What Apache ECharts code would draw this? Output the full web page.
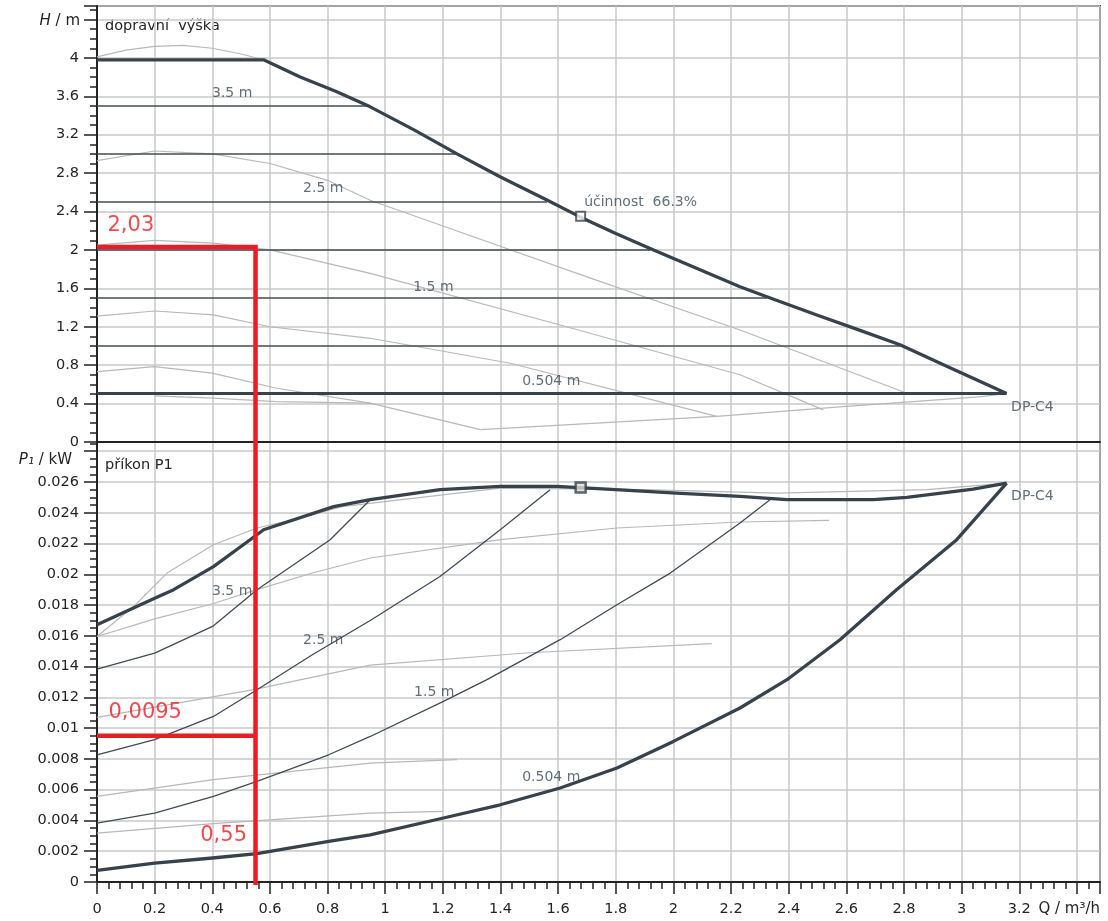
<!DOCTYPE html>
<html>
<head>
<meta charset="utf-8">
<script src="https://cdn.jsdelivr.net/npm/echarts@6/dist/echarts.min.js"></script>
<style>
  html, body { margin: 0; padding: 0; background: #ffffff; }
  #chart { width: 1108px; height: 921px; }
</style>
</head>
<body>
<div id="chart"></div>
<script>
// ---- Flow axis (Q, m³/h) ----
const Q_MAX = 3.48;
const Q_STEP = 0.2;

// ---- Head diagram H(Q), m ----
// maximum curve of the pump
const headMaxQ = [0, 0.578, 0.705, 0.83, 0.948, 1.1, 1.249, 1.4, 1.561, 1.676, 1.8, 1.919, 2.08, 2.231, 2.324, 2.5, 2.65, 2.786, 2.95, 3.156];
const headMaxH = [3.98, 3.98, 3.80, 3.65, 3.49, 3.25, 3.00, 2.76, 2.52, 2.344, 2.17, 2.016, 1.81, 1.617, 1.513, 1.32, 1.16, 1.012, 0.785, 0.504];
// minimum (0.504 m) constant-pressure line
const headMinQ = [0, 3.156];
const headMinH = [0.504, 0.504];
// constant-pressure set points and where they meet the maximum curve
const dpLevels = [3.5, 3.0, 2.5, 2.0, 1.5, 1.0];
const dpEndQ = [0.948, 1.249, 1.561, 1.919, 2.324, 2.786];
// constant-speed curves (grey)
const speedAQ = [0, 0.1, 0.2, 0.3, 0.4, 0.5, 0.578];
const speedAH = [4.01, 4.08, 4.12, 4.13, 4.10, 4.04, 3.98];
const speedBQ = [0, 0.2, 0.4, 0.6, 0.8, 0.948, 1.237, 1.7, 2.231, 2.81];
const speedBH = [2.93, 3.03, 3.00, 2.90, 2.725, 2.517, 2.21, 1.72, 1.166, 0.508];
const speedCQ = [0, 0.2, 0.404, 0.6, 0.948, 1.607, 2.231, 2.52];
const speedCH = [2.05, 2.10, 2.07, 2.00, 1.756, 1.218, 0.70, 0.335];
const speedDQ = [0, 0.2, 0.404, 0.6, 0.948, 1.434, 2.15];
const speedDH = [1.31, 1.364, 1.323, 1.20, 1.08, 0.82, 0.266];
const speedEQ = [0, 0.2, 0.4, 0.624, 0.948, 1.33];
const speedEH = [0.733, 0.785, 0.717, 0.56, 0.405, 0.128];
const speedFQ = [1.33, 1.64, 2.15, 2.6, 3.06, 3.156];
const speedFH = [0.128, 0.18, 0.266, 0.37, 0.47, 0.504];
const speedGQ = [0.2, 0.404, 0.624, 0.948];
const speedGH = [0.48, 0.457, 0.42, 0.405];

// ---- Power diagram P1(Q), kW ----
const powMaxQ = [0, 0.2, 0.266, 0.404, 0.555, 0.578, 0.821, 0.948, 1.19, 1.40, 1.595, 1.80, 2.01, 2.231, 2.393, 2.694, 2.81, 3.04, 3.156];
const powMaxP = [0.01672, 0.01845, 0.0190, 0.0205, 0.02257, 0.0229, 0.0244, 0.02485, 0.0255, 0.02571, 0.02571, 0.0255, 0.02528, 0.02506, 0.02485, 0.02485, 0.0250, 0.02554, 0.02593];
const powMinQ = [0, 0.2, 0.401, 0.555, 0.804, 0.948, 1.202, 1.399, 1.607, 1.804, 2.0, 2.231, 2.394, 2.578, 2.774, 2.983, 3.156];
const powMinP = [0.00076, 0.00123, 0.00156, 0.00184, 0.00264, 0.00307, 0.00416, 0.00502, 0.00611, 0.00741, 0.00914, 0.01131, 0.01315, 0.01575, 0.0190, 0.02225, 0.02593];
const pow35Q = [0, 0.2, 0.401, 0.555, 0.809, 0.948];
const pow35P = [0.01384, 0.01488, 0.01661, 0.0190, 0.02225, 0.02485];
const pow25Q = [0, 0.2, 0.404, 0.555, 0.75, 0.948, 1.19, 1.399, 1.572];
const pow25P = [0.00827, 0.00925, 0.01076, 0.0125, 0.0148, 0.0170, 0.01986, 0.0229, 0.0255];
const pow15Q = [0, 0.2, 0.404, 0.555, 0.804, 0.948, 1.202, 1.353, 1.607, 1.804, 1.989, 2.231, 2.335];
const pow15P = [0.00383, 0.00448, 0.00557, 0.00654, 0.00827, 0.00946, 0.01174, 0.01315, 0.01575, 0.01802, 0.02008, 0.02333, 0.02485];
// constant-speed power curves (grey)
const powGAQ = [0, 0.127, 0.243, 0.404, 0.555, 0.705, 0.85, 1.4, 1.9, 2.36, 2.88, 3.156];
const powGAP = [0.01596, 0.01791, 0.02008, 0.02192, 0.02301, 0.02366, 0.0244, 0.0256, 0.0255, 0.02528, 0.0255, 0.02593];
const powGBQ = [0, 0.2, 0.404, 0.555, 0.75, 0.948, 1.40, 1.804, 2.231, 2.54];
const powGBP = [0.01596, 0.0171, 0.0181, 0.0190, 0.0201, 0.02106, 0.02225, 0.02301, 0.0234, 0.0235];
const powGCQ = [0, 0.543, 0.948, 1.5, 2.133];
const powGCP = [0.0107, 0.0125, 0.0141, 0.0149, 0.0155];
const powGDQ = [0, 0.404, 0.948, 1.249];
const powGDP = [0.00557, 0.00665, 0.00773, 0.00795];
const powGEQ = [0, 0.404, 0.948, 1.2];
const powGEP = [0.00318, 0.0038, 0.00448, 0.00459];

// ---- Best-efficiency point ----
const bepQ = 1.678;
const bepH = 2.35;
const bepP = 0.02565;
const bepEta = '66.3%';

// ---- Reading for the chosen duty point ----
const readQ = 0.55;
const readH = 2.03;
const readP = 0.0095;

// ---- Tick labels ----
const hTickMax = 4.0;
const pTickMax = 0.026;
const qTickMax = 3.2;

// ---- Annotations in data units: [Q, value, text] ----
const headNotes = [[0.469, 3.63, '3.5 m'], [0.785, 2.64, '2.5 m'], [1.167, 1.615, '1.5 m'], [1.576, 0.627, '0.504 m']];
const powNotes = [[0.469, 0.01887, '3.5 m'], [0.785, 0.01568, '2.5 m'], [1.17, 0.0123, '1.5 m'], [1.576, 0.00679, '0.504 m']];

const FONT = 'DejaVu Sans';
const GRID_COLOR = '#c9c9c9';
const DARK = '#38424c';
const THIN = '#414b56';
const GREY = '#b8b8b8';
const AXIS = '#222222';
const RED = '#ed1c24';
const TEXT = '#242424';
const NOTE = '#3c4a58';

const pair = (xs, ys) => xs.map((x, i) => [x, ys[i]]);
const num = (v, d) => String(Math.round(v * Math.pow(10, d)) / Math.pow(10, d));
const comma = v => String(v).replace('.', ',');

function curve(data, gi, width, color, z) {
  return {
    type: 'line', xAxisIndex: gi, yAxisIndex: gi, data: data,
    showSymbol: false, symbol: 'none', silent: true, animation: false,
    lineStyle: { width: width, color: color, join: 'round' }, z: z
  };
}

function notes(items, gi, labelStyle) {
  return {
    type: 'scatter', xAxisIndex: gi, yAxisIndex: gi, symbolSize: 1, silent: true, animation: false,
    itemStyle: { color: 'transparent' }, z: 6,
    data: items.map(t => ({ value: [t[0], t[1]], name: t[2] })),
    label: Object.assign({ show: true, formatter: '{b}', fontFamily: FONT, fontSize: 14, color: NOTE }, labelStyle)
  };
}

const series = [];

// head diagram
series.push(curve(pair(speedAQ, speedAH), 0, 1.2, GREY, 2));
series.push(curve(pair(speedBQ, speedBH), 0, 1.2, GREY, 2));
series.push(curve(pair(speedCQ, speedCH), 0, 1.2, GREY, 2));
series.push(curve(pair(speedDQ, speedDH), 0, 1.2, GREY, 2));
series.push(curve(pair(speedEQ, speedEH), 0, 1.2, GREY, 2));
series.push(curve(pair(speedFQ, speedFH), 0, 1.2, GREY, 2));
series.push(curve(pair(speedGQ, speedGH), 0, 1.2, GREY, 2));
dpLevels.forEach((h, i) => series.push(curve([[0, h], [dpEndQ[i], h]], 0, 1.5, THIN, 3)));
series.push(curve(pair(headMinQ, headMinH), 0, 3, DARK, 4));
series.push(curve(pair(headMaxQ, headMaxH), 0, 3.3, DARK, 4));
series.push(notes(headNotes, 0, { position: 'inside' }));

// power diagram
series.push(curve(pair(powGAQ, powGAP), 1, 1.2, GREY, 2));
series.push(curve(pair(powGBQ, powGBP), 1, 1.2, GREY, 2));
series.push(curve(pair(powGCQ, powGCP), 1, 1.2, GREY, 2));
series.push(curve(pair(powGDQ, powGDP), 1, 1.2, GREY, 2));
series.push(curve(pair(powGEQ, powGEP), 1, 1.2, GREY, 2));
series.push(curve(pair(pow35Q, pow35P), 1, 1.3, THIN, 3));
series.push(curve(pair(pow25Q, pow25P), 1, 1.3, THIN, 3));
series.push(curve(pair(pow15Q, pow15P), 1, 1.3, THIN, 3));
series.push(curve(pair(powMinQ, powMinP), 1, 3.3, DARK, 4));
series.push(curve(pair(powMaxQ, powMaxP), 1, 3.3, DARK, 4));
series.push(notes(powNotes, 1, { position: 'inside' }));

// best-efficiency markers
series.push({
  type: 'scatter', xAxisIndex: 0, yAxisIndex: 0, symbol: 'rect', symbolSize: 9, silent: true, animation: false, z: 7,
  itemStyle: { color: '#ffffff', borderColor: DARK, borderWidth: 2 },
  data: [[bepQ, bepH]],
  label: { show: true, position: 'right', distance: 0, offset: [-2, -14], formatter: 'účinnost  ' + bepEta, fontFamily: FONT, fontSize: 14, color: NOTE }
});
series.push({
  type: 'scatter', xAxisIndex: 1, yAxisIndex: 1, symbol: 'rect', symbolSize: 10, silent: true, animation: false, z: 7,
  itemStyle: { color: '#d9d9d9', borderColor: DARK, borderWidth: 2.5 },
  data: [[bepQ, bepP]]
});

// pump type label at the end of the curves
series.push({
  type: 'scatter', xAxisIndex: 0, yAxisIndex: 0, symbolSize: 1, silent: true, animation: false, z: 6,
  itemStyle: { color: 'transparent' },
  data: [[headMaxQ[headMaxQ.length - 1], headMaxH[headMaxH.length - 1]]],
  label: { show: true, position: 'right', distance: 4, offset: [0, 14], formatter: 'DP-C4', fontFamily: FONT, fontSize: 14, color: NOTE }
});
series.push({
  type: 'scatter', xAxisIndex: 1, yAxisIndex: 1, symbolSize: 1, silent: true, animation: false, z: 6,
  itemStyle: { color: 'transparent' },
  data: [[powMaxQ[powMaxQ.length - 1], powMaxP[powMaxP.length - 1]]],
  label: { show: true, position: 'right', distance: 4, offset: [0, 13], formatter: 'DP-C4', fontFamily: FONT, fontSize: 14, color: NOTE }
});

// red read-off lines for the duty point
const redStyle = { width: 4.5, color: RED, join: 'miter', cap: 'butt' };
series.push({ type: 'line', xAxisIndex: 0, yAxisIndex: 0, data: [[0, readH], [readQ, readH], [readQ, 0]], showSymbol: false, symbol: 'none', silent: true, animation: false, lineStyle: redStyle, z: 10, clip: false });
series.push({ type: 'line', xAxisIndex: 1, yAxisIndex: 1, data: [[0, readP], [readQ, readP]], showSymbol: false, symbol: 'none', silent: true, animation: false, lineStyle: redStyle, z: 10, clip: false });
series.push({ type: 'line', xAxisIndex: 1, yAxisIndex: 1, data: [[readQ, 0.0286], [readQ, -0.0002]], showSymbol: false, symbol: 'none', silent: true, animation: false, lineStyle: redStyle, z: 10, clip: false });
const redLabel = { show: true, fontFamily: FONT, fontSize: 21, color: RED };
series.push({
  type: 'scatter', xAxisIndex: 0, yAxisIndex: 0, symbolSize: 1, silent: true, animation: false, z: 11,
  itemStyle: { color: 'transparent' }, data: [[0, readH]],
  label: Object.assign({ position: 'right', distance: 10, offset: [0, -22], formatter: comma(readH) }, redLabel)
});
series.push({
  type: 'scatter', xAxisIndex: 1, yAxisIndex: 1, symbolSize: 1, silent: true, animation: false, z: 11,
  itemStyle: { color: 'transparent' }, data: [[0, readP]],
  label: Object.assign({ position: 'right', distance: 11, offset: [0, -23], formatter: comma(readP) }, redLabel)
});
series.push({
  type: 'scatter', xAxisIndex: 1, yAxisIndex: 1, symbolSize: 1, silent: true, animation: false, z: 11,
  itemStyle: { color: 'transparent' }, data: [[readQ, 0]],
  label: Object.assign({ position: 'left', distance: 8, offset: [0, -46], formatter: comma(readQ) }, redLabel)
});

const splitLine = { show: true, lineStyle: { color: GRID_COLOR, width: 1.5 } };
const axisLine = { show: true, onZero: false, lineStyle: { color: AXIS, width: 2 } };
const tickStyle = { color: AXIS, width: 1.5 };
const labelStyle = { fontFamily: FONT, fontSize: 14.5, color: TEXT };

const option = {
  backgroundColor: '#ffffff',
  animation: false,
  grid: [
    { left: 97, right: 8, top: 6, height: 436, show: true, borderColor: '#3a3a3a', borderWidth: 2, backgroundColor: 'transparent' },
    { left: 97, right: 8, top: 442, height: 440, show: true, borderColor: '#3a3a3a', borderWidth: 2, backgroundColor: 'transparent' }
  ],
  xAxis: [
    { type: 'value', gridIndex: 0, min: 0, max: Q_MAX, interval: Q_STEP, splitLine: splitLine, axisLine: axisLine,
      axisTick: { show: false }, axisLabel: { show: false } },
    { type: 'value', gridIndex: 1, min: 0, max: Q_MAX, interval: Q_STEP, splitLine: splitLine, axisLine: axisLine,
      axisTick: { show: true, length: 12, lineStyle: tickStyle },
      minorTick: { show: true, splitNumber: 5, length: 7, lineStyle: tickStyle },
      axisLabel: Object.assign({ margin: 20, formatter: v => (v > qTickMax + 0.01 ? '' : num(v, 2)) }, labelStyle) }
  ],
  yAxis: [
    { type: 'value', gridIndex: 0, min: 0, max: 4.54, interval: 0.4, splitLine: splitLine, axisLine: axisLine,
      axisTick: { show: true, length: 13, lineStyle: tickStyle },
      minorTick: { show: true, splitNumber: 4, length: 7, lineStyle: tickStyle },
      axisLabel: Object.assign({ margin: 18, formatter: v => (v > hTickMax + 0.01 ? '' : num(v, 2)) }, labelStyle) },
    { type: 'value', gridIndex: 1, min: 0, max: 0.0286, interval: 0.002, splitLine: splitLine, axisLine: axisLine,
      axisTick: { show: true, length: 13, lineStyle: tickStyle },
      minorTick: { show: true, splitNumber: 4, length: 7, lineStyle: tickStyle },
      axisLabel: Object.assign({ margin: 18, formatter: v => (v > pTickMax + 0.0001 ? '' : num(v, 4)) }, labelStyle) }
  ],
  graphic: [
    { type: 'text', left: 105, top: 19, style: { text: 'dopravní  výška', font: '14.5px "DejaVu Sans"', fill: TEXT } },
    { type: 'text', left: 105, top: 458, style: { text: 'příkon P1', font: '14.5px "DejaVu Sans"', fill: TEXT } },
    { type: 'text', right: 1028, top: 14, style: { text: '{i|H} / m', rich: { i: { fontStyle: 'italic', fontFamily: FONT, fontSize: 15, fill: TEXT } }, fontFamily: FONT, fontSize: 15, fill: TEXT } },
    { type: 'text', right: 1036, top: 453, style: { text: '{i|P₁} / kW', rich: { i: { fontStyle: 'italic', fontFamily: FONT, fontSize: 15, fill: TEXT } }, fontFamily: FONT, fontSize: 15, fill: TEXT } },
    { type: 'text', right: 8, top: 902, style: { text: 'Q / m³/h', fontFamily: FONT, fontSize: 15, fill: TEXT } }
  ],
  series: series
};

const chart = echarts.init(document.getElementById('chart'), null, { renderer: 'canvas' });
chart.setOption(option);
</script>
</body>
</html>
